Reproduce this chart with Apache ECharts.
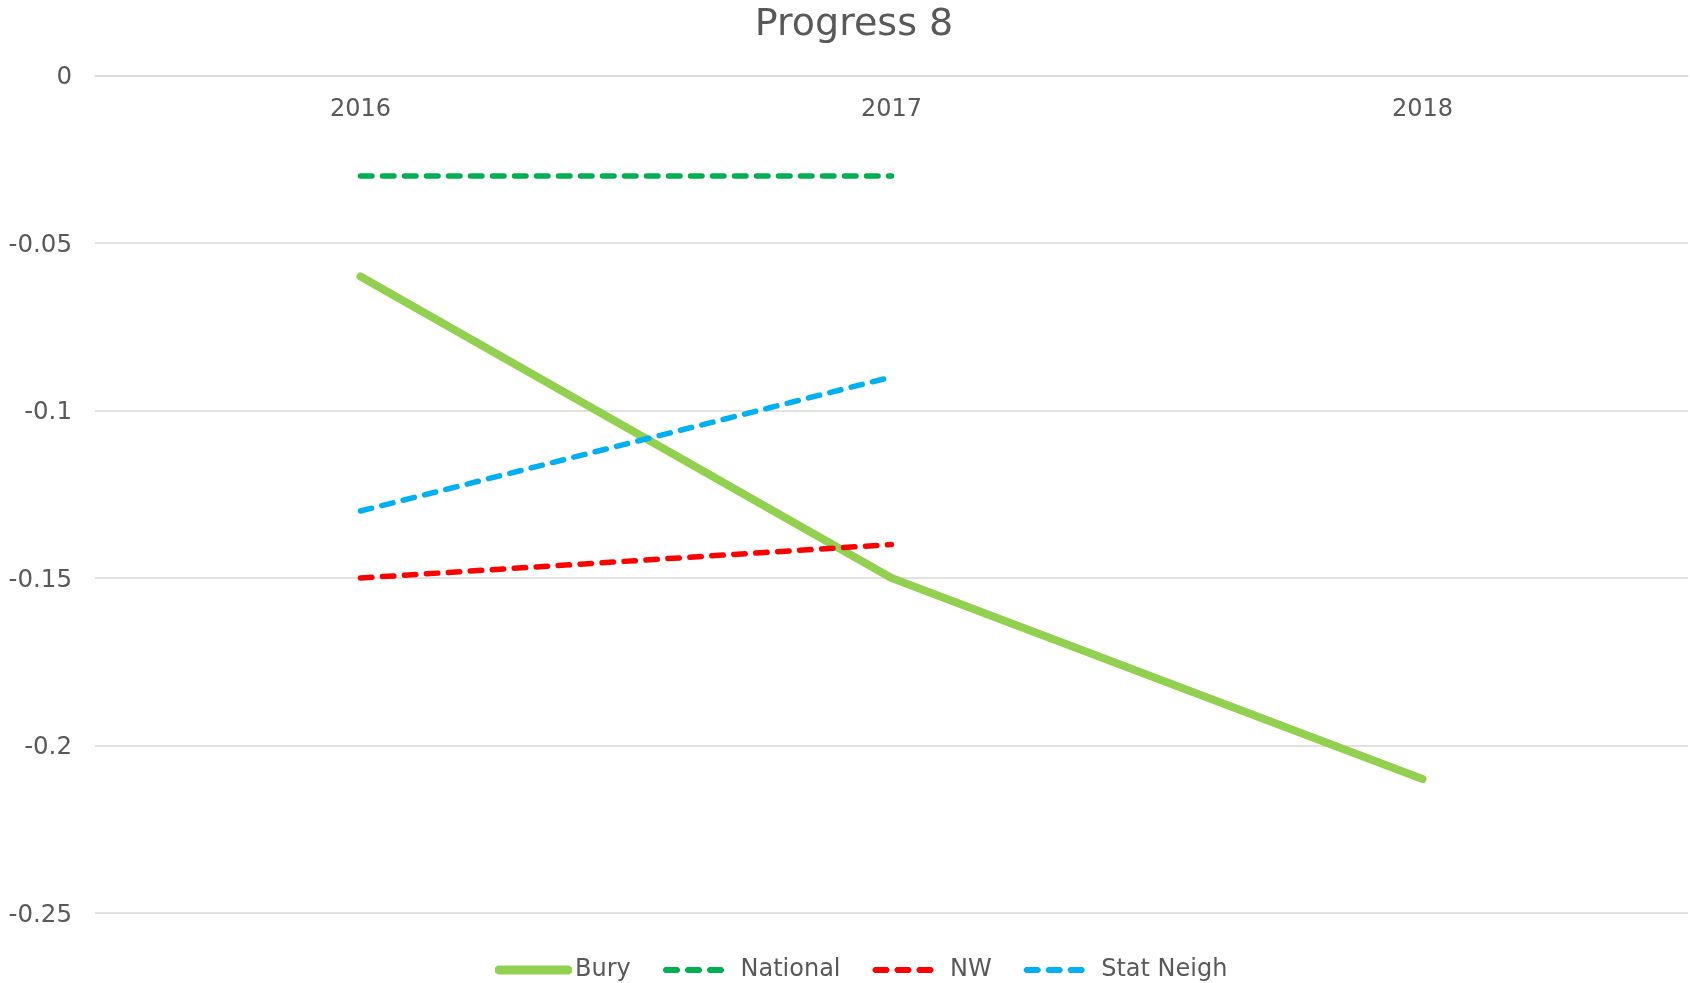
<!DOCTYPE html>
<html>
<head>
<meta charset="utf-8">
<script src="https://cdn.jsdelivr.net/npm/echarts@6/dist/echarts.min.js"></script>
<style>
  html, body { margin: 0; padding: 0; background: #fff; }
  #chart { width: 1690px; height: 983px; }
</style>
</head>
<body>
<div id="chart"></div>
<script>
var years = ['2016', '2017', '2018'];
var bury = [-0.06, -0.15, -0.21];
var national = [-0.03, -0.03, null];
var nw = [-0.15, -0.14, null];
var statNeigh = [-0.13, -0.09, null];

var font = 'DejaVu Sans, Verdana, sans-serif';
var textColor = '#595959';

// legend icons: a solid bar and three short dashes, corners cut to look rounded
var solidIcon = 'path://M3 0 L74 0 L77 2 L77 7 L74 9 L3 9 L0 7 L0 2 Z';
var dashIcon = 'path://M2 0 L15 0 L17 2 L17 4 L15 6 L2 6 L0 4 L0 2 Z' +
  'M24 0 L37 0 L39 2 L39 4 L37 6 L24 6 L22 4 L22 2 Z' +
  'M46 0 L59 0 L61 2 L61 4 L59 6 L46 6 L44 4 L44 2 Z';

function dashed(name, data, color) {
  return {
    name: name,
    type: 'line',
    data: data,
    symbol: 'none',
    lineStyle: { color: color, width: 5.5, type: [11.5, 10.5], cap: 'round' },
    itemStyle: { color: color }
  };
}

var chart = echarts.init(document.getElementById('chart'));
chart.setOption({
  animation: false,
  title: {
    text: 'Progress 8',
    left: 849,
    textAlign: 'center',
    top: 1,
    textStyle: { fontFamily: font, fontSize: 38, fontWeight: 'normal', color: textColor }
  },
  legend: [
    {
      left: 490,
      top: 953,
      itemWidth: 77,
      itemHeight: 9,
      icon: solidIcon,
      textStyle: { fontFamily: font, fontSize: 24, color: textColor, padding: [0, 0, 0, -2] },
      data: ['Bury']
    },
    {
      left: 658,
      top: 953,
      itemWidth: 64,
      itemHeight: 6,
      itemGap: 32,
      icon: dashIcon,
      textStyle: { fontFamily: font, fontSize: 24, color: textColor, padding: [0, 0, 0, 10] },
      data: ['National', 'NW', 'Stat Neigh']
    }
  ],
  grid: { left: 95, right: 2, top: 75.5, bottom: 70 },
  xAxis: {
    type: 'category',
    position: 'top',
    data: years,
    boundaryGap: true,
    axisLine: { show: true, lineStyle: { color: '#d9d9d9', width: 1.5 } },
    axisTick: { show: false },
    axisLabel: { inside: true, margin: 22, fontFamily: font, fontSize: 24, color: textColor }
  },
  yAxis: {
    type: 'value',
    min: -0.25,
    max: 0,
    interval: 0.05,
    axisLine: { show: false },
    axisTick: { show: false },
    splitLine: { lineStyle: { color: '#d9d9d9', width: 1.5 } },
    axisLabel: {
      margin: 23,
      formatter: '{v|{value}}',
      rich: { v: { padding: [5, 0, 0, 0], fontFamily: font, fontSize: 24.5, color: textColor } }
    }
  },
  series: [
    {
      name: 'Bury',
      type: 'line',
      data: bury,
      symbol: 'none',
      lineStyle: { color: '#92D050', width: 8, cap: 'round' },
      itemStyle: { color: '#92D050' }
    },
    dashed('National', national, '#00B050'),
    dashed('NW', nw, '#FF0000'),
    dashed('Stat Neigh', statNeigh, '#00B0F0')
  ]
});
</script>
</body>
</html>
